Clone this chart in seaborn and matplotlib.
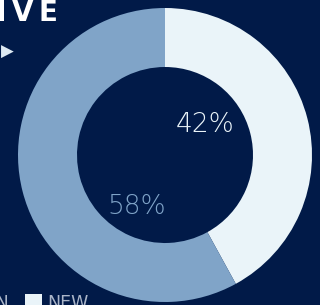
import matplotlib
matplotlib.use('Agg')
import matplotlib.pyplot as plt
import seaborn as sns

# data
labels = ['RETURN', 'NEW']
shares = [58, 42]
colors = ['#80a4c8', '#eaf4f9']
bg = '#011a48'

sns.set_theme(style='dark', rc={'figure.facecolor': bg, 'axes.facecolor': bg})
plt.rcParams['font.family'] = ['DejaVu Sans']

fig = plt.figure(figsize=(3.2, 3.05), dpi=100)
ax = fig.add_axes([0, 0, 1, 1])

# draw NEW first, clockwise from 12 o'clock
wedges, _ = ax.pie(shares[::-1], colors=colors[::-1], startangle=90, counterclock=False,
                   radius=147, center=(165, 150),
                   wedgeprops=dict(width=59, linewidth=0))
ax.set_xlim(0, 320)
ax.set_ylim(0, 305)
ax.set_aspect('auto')
ax.axis('off')

# percentage labels
ax.text(205, 180, f'{shares[1]}%', color=colors[1], fontsize=19, fontweight='light',
        ha='center', va='center')
ax.text(137, 99, f'{shares[0]}%', color=colors[0], fontsize=19, fontweight='light',
        ha='center', va='center')

# cut-off title and marker
ax.text(58, 284, '\u2009'.join('INTERACTIVE'), color='white', fontsize=20,
        fontweight='bold', ha='right', va='baseline')
ax.text(1, 253, '\u25B6', color='#dde9f2', fontsize=12, ha='left', va='center')

# legend along bottom
leg = ax.legend([wedges[1], wedges[0]], labels, ncol=2, frameon=False,
                loc='upper left', bbox_to_anchor=(-85, 11), bbox_transform=ax.transData,
                fontsize=12.5, handlelength=1.0, handleheight=1.0, handletextpad=0.3,
                columnspacing=0.9, borderpad=0, borderaxespad=0, labelcolor='#aab5c8')

fig.savefig('out.png', dpi=100, facecolor=bg)
